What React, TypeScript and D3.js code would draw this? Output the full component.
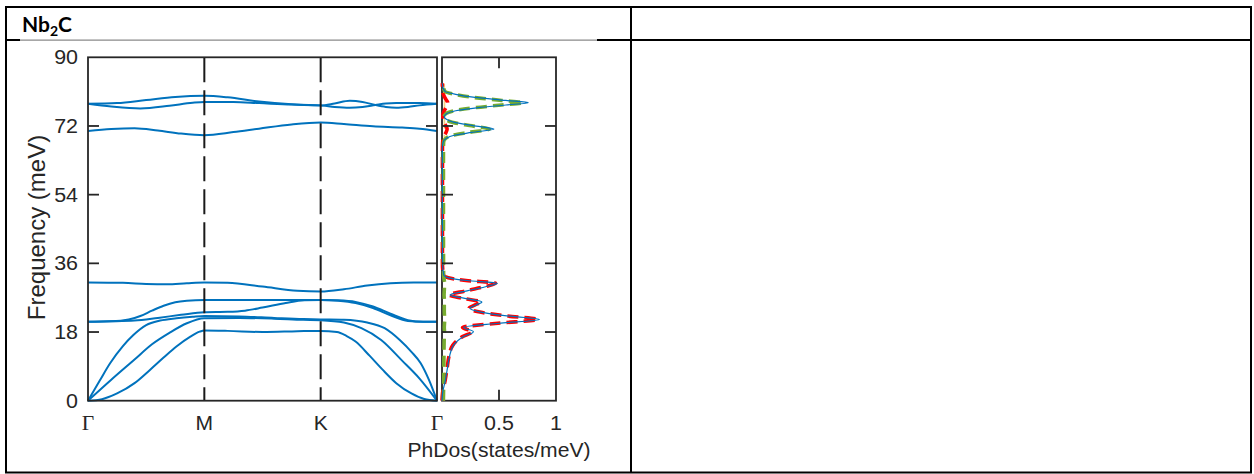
import React from 'react';
import * as d3 from 'd3';

// ---------- data ----------
const kLabels = ['Γ', 'M', 'K', 'Γ'];
const kPositions = [0, 1, 2, 3];
const freqTicks = [0, 18, 36, 54, 72, 90];
const dosTickValues = [0.5, 1];
const headerText = ['Nb', '2', 'C'];

type P = [number, number];

// phonon branches: [path coordinate (Γ=0, M=1, K=2, Γ=3), frequency meV]
const band1: P[] = [[0, 0], [0.12, 0.4], [0.25, 1.9], [0.4, 4.6], [0.53, 8.0], [0.65, 11.3], [0.76, 14.2], [0.88, 16.8], [0.96, 18.1], [1, 18.4],
  [1.2, 18.3], [1.5, 18.0], [1.8, 18.2], [2, 18.3],
  [2.14, 18.0], [2.22, 17.0], [2.3, 15.5], [2.42, 11.8], [2.53, 8.2], [2.65, 4.6], [2.78, 1.9], [2.89, 0.45], [3, 0]];
const band2: P[] = [[0, 0], [0.2, 5.5], [0.4, 10.8], [0.55, 14.8], [0.7, 17.8], [0.85, 20.3], [1, 21.6],
  [1.3, 21.7], [1.6, 21.5], [1.85, 21.2], [2, 21.1],
  [2.2, 20.5], [2.35, 19.0], [2.52, 15.9], [2.7, 10.5], [2.85, 5.8], [3, 0]];
const band3: P[] = [[0, 0], [0.1, 5.2], [0.19, 9.8], [0.3, 14.3], [0.39, 17.2], [0.5, 19.8], [0.62, 21.0], [0.76, 21.6], [0.9, 22.0], [1, 22.2],
  [1.3, 22.1], [1.6, 21.7], [1.85, 21.4], [2, 21.3],
  [2.2, 21.2], [2.4, 20.5], [2.55, 19.0], [2.68, 15.9], [2.78, 12.8], [2.86, 9.8], [2.93, 5.5], [3, 0]];
const band4: P[] = [[0, 20.7], [0.2, 20.8], [0.4, 21.0], [0.6, 21.7], [0.8, 22.5], [1, 23.2],
  [1.2, 23.3], [1.35, 23.6], [1.5, 24.4], [1.7, 25.6], [1.86, 26.3], [2, 26.4],
  [2.15, 26.2], [2.3, 25.6], [2.45, 24.3], [2.6, 22.4], [2.75, 20.9], [2.88, 20.7], [3, 20.7]];
const band5: P[] = [[0, 20.7], [0.2, 20.8], [0.35, 21.3], [0.45, 22.2], [0.55, 23.6], [0.65, 24.9], [0.75, 25.8], [0.85, 26.2], [1, 26.4],
  [1.5, 26.4], [2, 26.4],
  [2.15, 26.3], [2.3, 25.9], [2.45, 24.7], [2.6, 22.8], [2.75, 21.1], [2.88, 20.7], [3, 20.7]];
const band6: P[] = [[0, 31.0], [0.3, 30.9], [0.5, 30.6], [0.68, 30.5], [0.85, 30.8], [1, 31.0],
  [1.2, 30.9], [1.5, 29.9], [1.8, 28.8], [2, 28.6],
  [2.2, 29.2], [2.4, 30.2], [2.6, 30.8], [2.8, 31.0], [3, 31.0]];
const band7: P[] = [[0, 70.7], [0.2, 71.2], [0.4, 71.4], [0.6, 70.8], [0.8, 70.0], [1, 69.6],
  [1.25, 70.4], [1.47, 71.3], [1.75, 72.4], [2, 72.9],
  [2.2, 72.5], [2.45, 71.9], [2.7, 71.6], [2.85, 71.3], [3, 70.7]];
const band8: P[] = [[0, 77.8], [0.2, 77.1], [0.45, 76.6], [0.7, 77.3], [0.9, 78.1], [1, 78.3],
  [1.25, 78.3], [1.47, 78.0], [1.75, 77.6], [2, 77.4],
  [2.12, 77.0], [2.25, 76.8], [2.36, 77.0], [2.47, 77.5], [2.56, 77.9], [2.65, 78.0], [2.85, 78.0], [3, 77.8]];
const band9: P[] = [[0, 77.8], [0.25, 78.0], [0.5, 78.8], [0.75, 79.6], [1, 79.9],
  [1.2, 79.5], [1.47, 78.4], [1.75, 77.7], [2, 77.4],
  [2.12, 77.9], [2.25, 78.6], [2.36, 78.3], [2.47, 77.5], [2.56, 77.0], [2.65, 76.8], [2.75, 77.0], [2.85, 77.4], [3, 77.8]];
const bands = [band1, band2, band3, band4, band5, band6, band7, band8, band9];

// phonon DOS (states/meV) on a common frequency grid (meV)
const dosFreq = [0, 2, 5.4, 9, 11.5, 14.5, 16.8, 18.1, 19.2, 20.3, 21.3, 22.3, 23.3, 24.2, 25.1, 25.9, 26.8, 27.7, 28.8, 30.0, 30.8, 31.5, 32.2, 33, 36, 50, 66,
  67.8, 68.8, 69.5, 70.3, 71.2, 72.1, 73.0, 73.8, 74.4, 75.2, 76.0, 76.8, 77.5, 78.1, 78.7, 79.5, 80.3, 81.0, 82.0, 83.2];
const dosTotal = [0, 0.005, 0.03, 0.05, 0.065, 0.1, 0.19, 0.275, 0.19, 0.5, 0.855, 0.55, 0.33, 0.245, 0.3, 0.35, 0.2, 0.07, 0.22, 0.4, 0.485, 0.22, 0.06, 0.015, 0.005, 0.003, 0.003,
  0.01, 0.04, 0.1, 0.26, 0.456, 0.27, 0.1, 0.035, 0.02, 0.04, 0.12, 0.32, 0.56, 0.757, 0.56, 0.29, 0.12, 0.03, 0.01, 0.003];
const dosNb = [0, 0.005, 0.028, 0.047, 0.06, 0.094, 0.18, 0.265, 0.18, 0.49, 0.84, 0.54, 0.32, 0.235, 0.29, 0.34, 0.19, 0.062, 0.21, 0.39, 0.47, 0.21, 0.055, 0.012, 0.004, 0.004, 0.004,
  0.006, 0.012, 0.02, 0.035, 0.045, 0.032, 0.016, 0.008, 0.007, 0.01, 0.02, 0.035, 0.045, 0.05, 0.04, 0.024, 0.012, 0.006, 0.004, 0.003];
const dosC = [0.012, 0.013, 0.015, 0.016, 0.017, 0.018, 0.02, 0.022, 0.02, 0.022, 0.024, 0.022, 0.02, 0.02, 0.02, 0.022, 0.02, 0.018, 0.02, 0.022, 0.024, 0.02, 0.016, 0.014, 0.013, 0.012, 0.012,
  0.014, 0.035, 0.085, 0.23, 0.416, 0.242, 0.088, 0.029, 0.018, 0.033, 0.105, 0.29, 0.52, 0.712, 0.525, 0.27, 0.11, 0.028, 0.014, 0.012];
const dosOther = [0.02, 0.02, 0.021, 0.021, 0.021, 0.021, 0.022, 0.022, 0.022, 0.022, 0.023, 0.022, 0.022, 0.022, 0.022, 0.022, 0.022, 0.021, 0.022, 0.022, 0.022, 0.022, 0.021, 0.021, 0.021, 0.021, 0.021,
  0.021, 0.021, 0.021, 0.022, 0.022, 0.022, 0.021, 0.021, 0.021, 0.021, 0.021, 0.022, 0.022, 0.022, 0.022, 0.021, 0.021, 0.021, 0.02, 0.02];

// ---------- component ----------
export default function App() {
  const W = 1254, H = 474;
  const top = 57.3, bottom = 400.7;
  const x = d3.scaleLinear().domain([0, 3]).range([88, 437]);
  const y = d3.scaleLinear().domain([0, 90]).range([bottom, top]);
  const xd = d3.scaleLinear().domain([0, 1]).range([442, 556]);

  const bandLine = d3.line<P>().x(d => x(d[0])).y(d => y(d[1])).curve(d3.curveMonotoneX);
  const dosLine = (vals: number[]) =>
    d3.line<number>().x(v => xd(v)).y((_, i) => y(dosFreq[i])).curve(d3.curveMonotoneY)(vals) || '';

  const axisCol = '#262626';
  const blue = '#0072BD';
  const tickLen = 11;
  const sans = '"Liberation Sans", Arial, sans-serif';
  const serif = '"Liberation Serif", "Times New Roman", serif';
  const innerY = freqTicks.filter(t => t > 0 && t < 90);

  return (
    <svg width={W} height={H} style={{ position: 'absolute', left: 0, top: 0, background: '#fff' }}>
      <rect x={0} y={0} width={W} height={H} fill="#fff" />
      {/* table */}
      <g stroke="#000" strokeWidth={2} fill="none">
        <rect x={6} y={7} width={1245} height={465.5} />
        <line x1={6} x2={1251} y1={40} y2={40} />
        <line x1={631} x2={631} y1={7} y2={472.5} />
      </g>
      <rect x={20} y={38.6} width={577} height={2.8} fill="#fff" />
      <line x1={20} x2={597} y1={40.2} y2={40.2} stroke="#8a8a8a" strokeWidth={1.2} />
      <text x={22} y={32} fontFamily='Lato, "Open Sans", sans-serif' fontWeight={700} fontSize={21} fill="#000">
        {headerText[0]}
        <tspan fontSize={14} dy={4}>{headerText[1]}</tspan>
        <tspan dy={-4}>{headerText[2]}</tspan>
      </text>

      {/* band structure */}
      <g>
        {bands.map((b, i) => (
          <path key={i} d={bandLine(b) || ''} fill="none" stroke={blue} strokeWidth={2} />
        ))}
      </g>
      {kPositions.slice(1, 3).map(k => (
        <line key={k} x1={x(k)} x2={x(k)} y1={top} y2={bottom} stroke="#1a1a1a" strokeWidth={2} strokeDasharray="25 8" />
      ))}
      <rect x={x(0)} y={top} width={x(3) - x(0)} height={bottom - top} fill="none" stroke={axisCol} strokeWidth={1.8} />
      {innerY.map(t => (
        <g key={t} stroke={axisCol} strokeWidth={1.8}>
          <line x1={x(0)} x2={x(0) + tickLen} y1={y(t)} y2={y(t)} />
          <line x1={x(3) - tickLen} x2={x(3)} y1={y(t)} y2={y(t)} />
        </g>
      ))}

      {/* DOS panel */}
      <rect x={xd(0)} y={top} width={xd(1) - xd(0)} height={bottom - top} fill="none" stroke={axisCol} strokeWidth={1.8} />
      <path d={dosLine(dosOther)} fill="none" stroke="#EDB120" strokeOpacity={0.55} strokeWidth={1.6} strokeDasharray="11 6" />
      <path d={dosLine(dosNb)} fill="none" stroke="#FF0000" strokeWidth={3.6} strokeDasharray="11 6" />
      <path d={dosLine(dosC)} fill="none" stroke="#77AC30" strokeWidth={3.6} strokeDasharray="11 6" />
      <path d={dosLine(dosTotal)} fill="none" stroke={blue} strokeWidth={1.2} />
      {innerY.map(t => (
        <g key={t} stroke={axisCol} strokeWidth={1.8}>
          <line x1={xd(0)} x2={xd(0) + tickLen} y1={y(t)} y2={y(t)} />
          <line x1={xd(1) - tickLen} x2={xd(1)} y1={y(t)} y2={y(t)} />
        </g>
      ))}
      {dosTickValues.filter(v => v < 1).map(v => (
        <g key={v} stroke={axisCol} strokeWidth={1.8}>
          <line x1={xd(v)} x2={xd(v)} y1={top} y2={top + tickLen} />
          <line x1={xd(v)} x2={xd(v)} y1={bottom - tickLen} y2={bottom} />
        </g>
      ))}

      {/* tick labels */}
      {freqTicks.map(t => (
        <text key={t} transform={`translate(78,${y(t) + 7}) scale(1.1,1)`} textAnchor="end"
          fontFamily={sans} fontSize={19.5} fill={axisCol}>{t}</text>
      ))}
      {kPositions.map((k, i) => (
        <text key={i} transform={`translate(${x(k)},430) scale(1.08,1)`} textAnchor="middle"
          fontFamily={kLabels[i] === 'Γ' ? serif : sans} fontSize={kLabels[i] === 'Γ' ? 20 : 19.5} fill={axisCol}>{kLabels[i]}</text>
      ))}
      {dosTickValues.map(v => (
        <text key={v} transform={`translate(${xd(v)},430) scale(1.1,1)`} textAnchor="middle"
          fontFamily={sans} fontSize={19.5} fill={axisCol}>{v}</text>
      ))}
      <text x={499} y={457} textAnchor="middle" fontFamily={sans} fontSize={19.5} fill={axisCol}
        textLength={183} lengthAdjust="spacingAndGlyphs">PhDos(states/meV)</text>
      <text transform={`translate(45,227.5) rotate(-90)`} textAnchor="middle" fontFamily={sans} fontSize={24} fill={axisCol}>
        Frequency (meV)
      </text>
    </svg>
  );
}
